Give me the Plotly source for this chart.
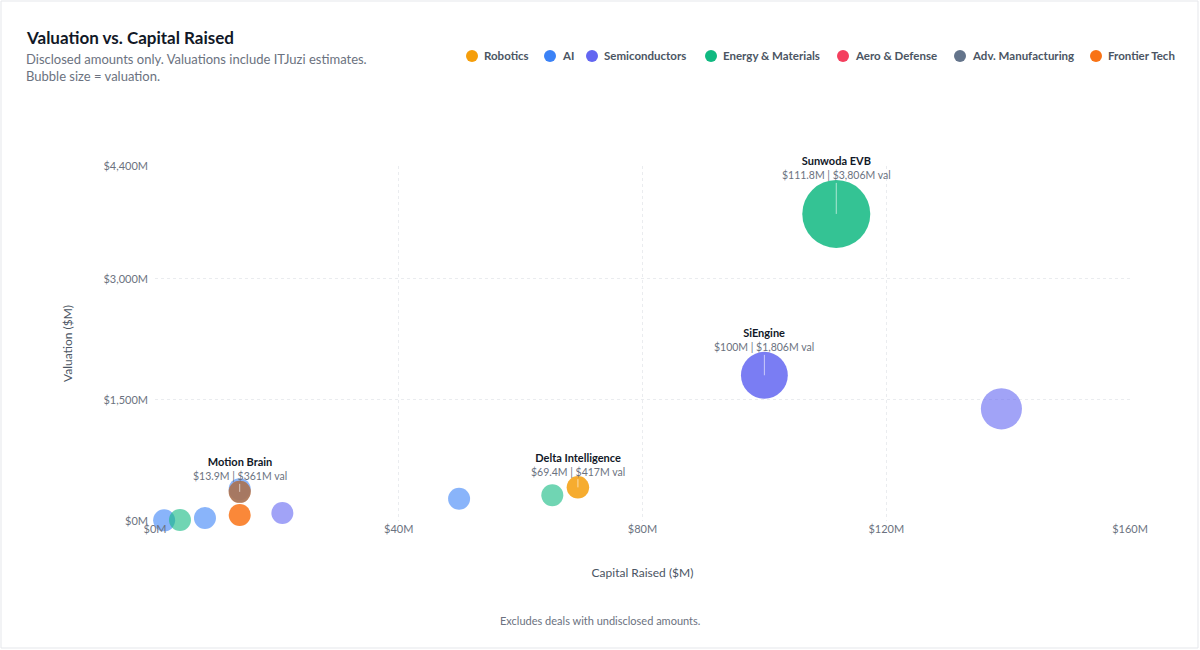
import plotly.graph_objects as go
import math

# deal data
names = ["Sunwoda EVB", "SiEngine", "", "Delta Intelligence", "", "",
         "", "Motion Brain", "", "", "", "", "", ""]
sectors = ["Energy & Materials", "Semiconductors", "Semiconductors", "Robotics",
           "Energy & Materials", "AI", "AI", "Frontier Tech", "Adv. Manufacturing",
           "Frontier Tech", "Semiconductors", "AI", "Energy & Materials", "AI"]
capital = [111.8, 100, 138.9, 69.4, 65.2, 49.9, 13.9, 13.9, 13.9, 13.9, 20.9, 8.2, 4.1, 1.5]
valuation = [3806, 1806, 1390, 417, 320, 275, 395, 361, 361, 74, 99, 37, 12, 8]
labeled = [True, True, False, True, False, False, False, True, False, False, False, False, False, False]

sector_order = ["Robotics", "AI", "Semiconductors", "Energy & Materials",
                "Aero & Defense", "Adv. Manufacturing", "Frontier Tech"]
sector_colors = ["#f59e0b", "#3b82f6", "#6366f1", "#10b981",
                 "#f43f5e", "#64748b", "#f97316"]
# drawing order of the bubbles
draw_order = ["AI", "Semiconductors", "Energy & Materials", "Robotics",
              "Aero & Defense", "Frontier Tech", "Adv. Manufacturing"]

x_ticks = [0, 40, 80, 120, 160]
y_ticks = [0, 1500, 3000, 4400]

SIZEREF = 1.646
SIZEMIN = 11
FONT = "Segoe UI, Lato, Noto Sans, sans-serif"
L, T, W, H = 155, 166, 975, 355  # plot area in px


def px(x):
    return (x - L) / W


def py(y):
    return (T + H - y) / H


fig = go.Figure()
for sec in draw_order:
    idx = [i for i, s in enumerate(sectors) if s == sec]
    if not idx:
        continue
    color = sector_colors[sector_order.index(sec)]
    ys = [valuation[i] for i in idx]
    ops = [0.85 if (labeled[i] or sec == "Frontier Tech") else 0.6 for i in idx]
    if sec == "Adv. Manufacturing":
        ops = [0.5 for i in idx]
    fig.add_trace(go.Scatter(
        x=[capital[i] for i in idx], y=ys,
        mode="markers", name=sec, showlegend=False,
        marker=dict(color=color, size=ys, sizemode="area",
                    sizeref=SIZEREF, sizemin=SIZEMIN,
                    opacity=ops, line=dict(width=0)),
        cliponaxis=False,
        hovertemplate="$%{x}M | $%{y:,}M<extra>" + sec + "</extra>",
    ))

annotations = []
for i in range(len(names)):
    if not labeled[i]:
        continue
    r = max(SIZEMIN, math.sqrt(valuation[i] / 2 / SIZEREF))
    annotations.append(dict(
        x=capital[i], y=valuation[i], xref="x", yref="y",
        text=f"<b>{names[i]}</b><br><span style='color:#6b7280;font-size:10.5px'>${capital[i]:g}M | ${valuation[i]:,.0f}M val</span>",
        showarrow=True, arrowhead=0, arrowwidth=1, arrowcolor="rgba(255,255,255,0.6)",
        ax=0, ay=-(r + 12), font=dict(size=11, color="#111827", family=FONT),
        align="center",
    ))

annotations += [
    dict(text="<b>Valuation vs. Capital Raised</b>", xref="paper", yref="paper",
         x=px(24), y=py(37), xanchor="left", yanchor="middle",
         showarrow=False, font=dict(size=17, color="#111827", family=FONT)),
    dict(text="Disclosed amounts only. Valuations include ITJuzi estimates.<br>Bubble size = valuation.",
         xref="paper", yref="paper", x=px(24), y=py(49),
         xanchor="left", yanchor="top", align="left", showarrow=False,
         font=dict(size=13, color="#6b7280", family=FONT)),
    dict(text="Excludes deals with undisclosed amounts.", xref="paper", yref="paper",
         x=px(600), y=py(620), xanchor="center", yanchor="middle",
         showarrow=False, font=dict(size=11, color="#6b7280", family=FONT)),
]

# legend drawn as dots + labels across the top right
legend_x = [472, 550, 592, 711, 843, 960, 1096]
shapes = [dict(type="rect", xref="paper", yref="paper",
               x0=px(1), x1=px(1198), y0=py(648), y1=py(1),
               line=dict(color="#e5e7eb", width=1), fillcolor="rgba(0,0,0,0)",
               layer="below")]
for sec, color, lx in zip(sector_order, sector_colors, legend_x):
    shapes.append(dict(type="circle", xref="paper", yref="paper",
                       xsizemode="pixel", ysizemode="pixel",
                       xanchor=px(lx), yanchor=py(56),
                       x0=-6, x1=6, y0=-6, y1=6,
                       fillcolor=color, line=dict(width=0)))
    annotations.append(dict(text=f"<b>{sec}</b>", xref="paper", yref="paper",
                            x=px(lx + 10), y=py(56), xanchor="left", yanchor="middle",
                            showarrow=False,
                            font=dict(size=11.5, color="#4b5563", family=FONT)))

fig.update_layout(
    width=1200, height=650,
    margin=dict(l=L, r=1200 - L - W, t=T, b=650 - T - H),
    paper_bgcolor="white", plot_bgcolor="white",
    font=dict(family=FONT, color="#6b7280", size=11),
    showlegend=False,
    xaxis=dict(range=[0, 160], tickvals=x_ticks,
               ticktext=[f"${v}M" for v in x_ticks],
               showgrid=True, gridcolor="#eaecef", griddash="dot", zeroline=False,
               showline=False, ticks="", tickfont=dict(size=11, color="#6b7280"),
               title=dict(text="Capital Raised ($M)", standoff=34,
                          font=dict(size=12, color="#4b5563"))),
    yaxis=dict(range=[0, 4400], tickvals=y_ticks,
               ticktext=[f"${v:,}M" for v in y_ticks],
               showgrid=True, gridcolor="#eaecef", griddash="dot", zeroline=False,
               showline=False, ticks="", tickfont=dict(size=11, color="#6b7280"),
               ticklabelstandoff=6,
               title=dict(text="Valuation ($M)", standoff=28,
                          font=dict(size=12, color="#4b5563"))),
    annotations=annotations,
    shapes=shapes,
)

fig.write_html("out.html", config={"displayModeBar": False},
               post_script="document.body.style.margin='0';")
